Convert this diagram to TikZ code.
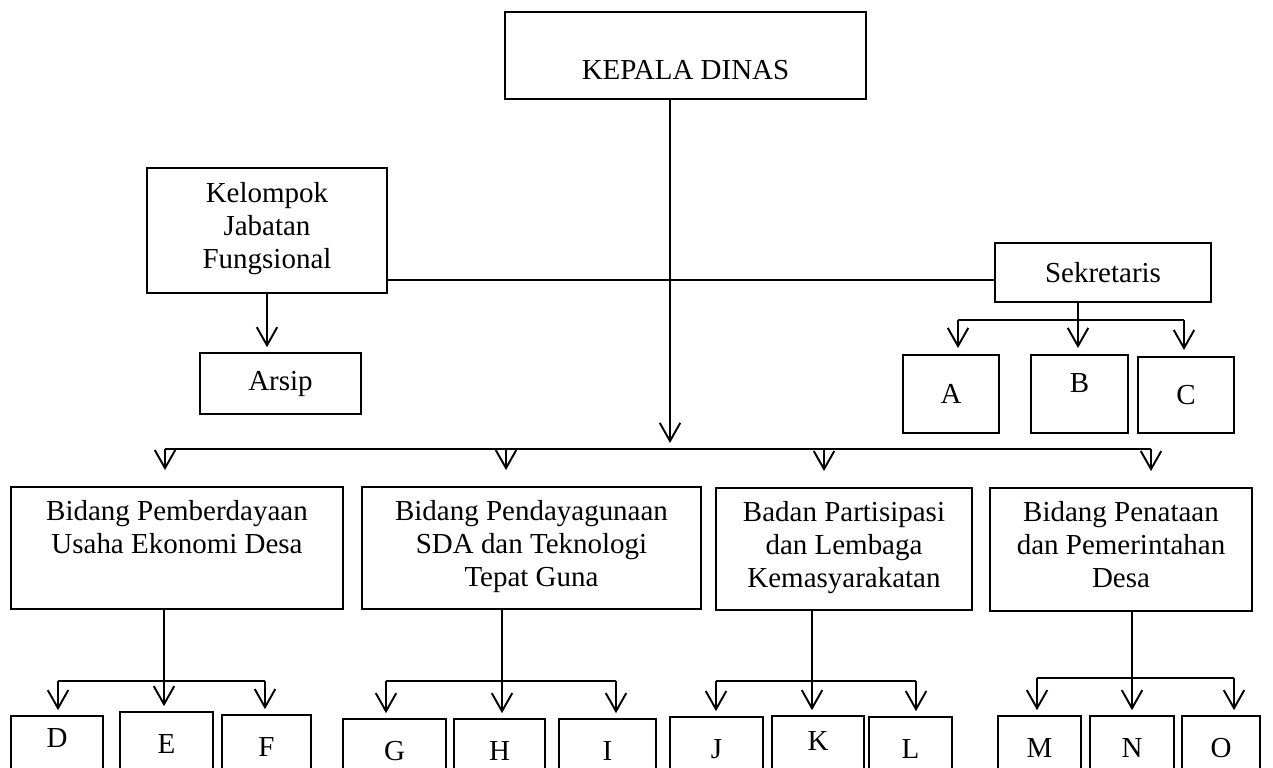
\documentclass[tikz,border=0pt]{standalone}
\usepackage{fontspec}
\setmainfont{Liberation Serif}
\usetikzlibrary{arrows.meta}

\def\u{0.414pt}

\begin{document}
\begin{tikzpicture}[x = 0.414pt, y = -0.414pt]
\tikzstyle{unit}=[shape = rectangle,
                  draw, line width = 0.8pt,
                  inner sep = 0pt, align = center,
                  font = \fontsize{12pt}{13.7pt}\selectfont]
\tikzstyle{bidang}=[unit, execute at begin node = \strut, execute at end node = \strut]
\tikzstyle{leaf}=[unit, anchor = north, minimum height = 80*\u, text depth = 7pt]
\tikzstyle{post}=[line width = 0.8pt, -{Straight Barb[length = 7.5pt, width = 8.5pt]}, shorten > = 2pt]
\tikzstyle{link}=[line width = 0.8pt]

\useasboundingbox (0,0) rectangle (1273,767);
\clip (0,0) rectangle (1273,767);

% top
\node[unit, minimum width = 361*\u, minimum height = 87*\u, text height = 20pt] (kepala) at (685.5,55.5) {KEPALA DINAS};
\node[bidang, minimum width = 240*\u, minimum height = 125*\u] (kelompok) at (267,230.5) {Kelompok\\Jabatan\\Fungsional};
\node[unit, minimum width = 161*\u, minimum height = 61*\u] (arsip) at (280.5,383.5) {Arsip};
\node[unit, minimum width = 216*\u, minimum height = 59*\u] (sekretaris) at (1103,272.5) {Sekretaris};
\node[unit, minimum width = 96*\u, minimum height = 78*\u] (A) at (951,394) {A};
\node[unit, minimum width = 97*\u, minimum height = 78*\u, text depth = 9pt] (B) at (1079.5,394) {B};
\node[unit, minimum width = 96*\u, minimum height = 76*\u] (C) at (1186,395) {C};

% bidang
\node[bidang, minimum width = 332*\u, minimum height = 122*\u] (bidang1) at (177,548) {Bidang Pemberdayaan\\Usaha Ekonomi Desa\\};
\node[bidang, minimum width = 339*\u, minimum height = 122*\u] (bidang2) at (531.5,548) {Bidang Pendayagunaan\\SDA dan Teknologi\\Tepat Guna};
\node[bidang, minimum width = 256*\u, minimum height = 122*\u] (bidang3) at (844,549) {Badan Partisipasi\\dan Lembaga\\Kemasyarakatan};
\node[bidang, minimum width = 262*\u, minimum height = 123*\u] (bidang4) at (1121,549.5) {Bidang Penataan\\dan Pemerintahan\\Desa};

% seksi
\node[leaf, minimum width = 92*\u, text depth = 15pt] (D) at (57,715) {D};
\node[leaf, minimum width = 93*\u] (E) at (166.5,711) {E};
\node[leaf, minimum width = 89*\u] (F) at (266.5,714) {F};
\node[leaf, minimum width = 103*\u] (G) at (394.5,718) {G};
\node[leaf, minimum width = 91*\u] (H) at (499.5,718) {H};
\node[leaf, minimum width = 97*\u] (I) at (607.5,718) {I};
\node[leaf, minimum width = 93*\u] (J) at (716.5,716) {J};
\node[leaf, minimum width = 92*\u, text depth = 12.5pt] (K) at (818,715) {K};
\node[leaf, minimum width = 83*\u] (L) at (910.5,716) {L};
\node[leaf, minimum width = 83*\u] (M) at (1039.5,715) {M};
\node[leaf, minimum width = 84*\u] (N) at (1132,715) {N};
\node[leaf, minimum width = 78*\u] (O) at (1221,715) {O};

% lines
\coordinate (hub) at (670,449);
\draw[post, shorten > = 0pt] (kepala.south -| hub) -- ([yshift = 2.5pt]hub);
\foreach \n/\x in {1/165, 2/506, 3/824, 4/1151}
  \coordinate (drop\n) at (\x,449);
\draw[link] (drop1) -- (drop4);
\foreach \n in {1,...,4}
  \draw[post, shorten > = 6.6pt] (drop\n) -- (bidang\n.north -| drop\n);

\coordinate (jab) at (0,280);
\draw[link] (kelompok.east |- jab) -- (sekretaris.west |- jab);
\draw[post] (kelompok.south) -- (arsip.north -| kelompok.south);

\foreach \n/\x in {A/958, B/1078, C/1184}
  \coordinate (sek\n) at (\x,320);
\draw[link] (sekretaris.south -| sekB) -- (sekB);
\draw[link] (sekA) -- (sekC);
\foreach \n in {A,B,C}
  \draw[post, shorten > = 2.5pt] (sek\n) -- (\n.north -| sek\n);

\foreach \g/\a/\b/\c/\xl/\xm/\xr/\y in {1/D/E/F/58/164/265/681, 2/G/H/I/386/502/616/681, 3/J/K/L/716/812/916/681, 4/M/N/O/1037/1132/1234/678} {
  \coordinate (left\g) at (\xl,\y);
  \coordinate (mid\g) at (\xm,\y);
  \coordinate (right\g) at (\xr,\y);
  \draw[link] (left\g) -- (right\g);
  \draw[post] (bidang\g.south -| mid\g) -- (\b.north -| mid\g);
  \draw[post] (left\g) -- (\a.north -| left\g);
  \draw[post] (right\g) -- (\c.north -| right\g);
}
\end{tikzpicture}
\end{document}
